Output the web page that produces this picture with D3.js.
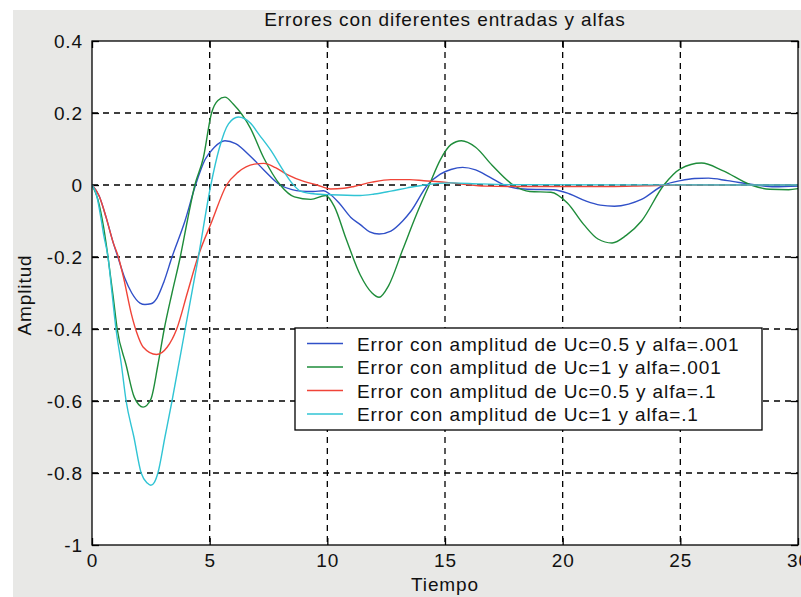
<!DOCTYPE html>
<html>
<head>
<meta charset="utf-8">
<script src="https://cdn.jsdelivr.net/npm/d3@7"></script>
<style>
  html, body { margin: 0; padding: 0; background: #ffffff; }
  svg { display: block; }
  text { font-family: "Liberation Sans", Arial, sans-serif; fill: #111; }
</style>
</head>
<body>
<svg id="chart" width="801" height="597"></svg>
<script>
// ---- data ----
const title = "Errores con diferentes entradas y alfas";
const xLabel = "Tiempo";
const yLabel = "Amplitud";
const xTicks = [0, 5, 10, 15, 20, 25, 30];
const yTicks = [-1, -0.8, -0.6, -0.4, -0.2, 0, 0.2, 0.4];
const yTickLabels = ["-1", "-0.8", "-0.6", "-0.4", "-0.2", "0", "0.2", "0.4"];
const seriesNames = [
  "Error con amplitud de Uc=0.5 y alfa=.001",
  "Error con amplitud de Uc=1 y alfa=.001",
  "Error con amplitud de Uc=0.5 y alfa=.1",
  "Error con amplitud de Uc=1 y alfa=.1"
];
const seriesColors = ["#3050c8", "#1e8c3a", "#f04438", "#30c4d4"];

// [tiempo, amplitud]
const errUc05a001 = [[0,0],[0.3,-0.03],[0.6,-0.09],[0.9,-0.16],[1.1,-0.2],[1.4,-0.26],[1.69,-0.3],[2.04,-0.328],[2.25,-0.332],[2.5,-0.33],[2.76,-0.314],[3.05,-0.27],[3.4,-0.2],[3.95,-0.1],[4.4,0],[4.8,0.07],[5.2,0.105],[5.65,0.123],[6.1,0.115],[6.73,0.08],[7.3,0.042],[8.0,0],[8.5,-0.013],[8.86,-0.017],[9.4,-0.018],[9.84,-0.016],[10.1,-0.025],[10.5,-0.05],[11.0,-0.09],[11.4,-0.11],[11.8,-0.13],[12.2,-0.136],[12.7,-0.128],[13.2,-0.1],[13.55,-0.073],[14.26,0],[14.8,0.03],[15.25,0.043],[15.75,0.049],[16.3,0.042],[16.9,0.022],[17.67,-0.004],[18.5,-0.012],[19.6,-0.013],[20.3,-0.025],[21.0,-0.045],[21.6,-0.056],[22.2,-0.059],[22.8,-0.053],[23.35,-0.04],[24.3,0],[25.0,0.012],[25.6,0.018],[26.2,0.019],[27.0,0.012],[28.2,0],[29.0,-0.005],[30,-0.003]];

const errUc1a001 = [[0,0],[0.25,-0.04],[0.5,-0.12],[0.68,-0.2],[0.9,-0.31],[1.07,-0.4],[1.45,-0.5],[1.8,-0.59],[2.17,-0.617],[2.5,-0.595],[2.8,-0.5],[3.07,-0.4],[3.4,-0.3],[3.75,-0.2],[4.05,-0.1],[4.37,0],[4.73,0.075],[5.08,0.2],[5.35,0.235],[5.65,0.244],[6.0,0.225],[6.73,0.158],[7.3,0.075],[8.0,0],[8.6,-0.033],[9.3,-0.04],[9.93,-0.029],[10.3,-0.06],[10.8,-0.15],[11.4,-0.25],[11.9,-0.3],[12.2,-0.312],[12.6,-0.28],[13.2,-0.18],[13.8,-0.08],[14.33,0],[14.8,0.07],[15.25,0.112],[15.7,0.123],[16.3,0.105],[17.0,0.055],[17.9,0],[18.6,-0.018],[19.5,-0.02],[20.2,-0.05],[20.9,-0.11],[21.5,-0.15],[22.1,-0.161],[22.7,-0.14],[23.35,-0.1],[24.3,0],[25.0,0.045],[25.9,0.061],[26.8,0.04],[28.0,0],[28.8,-0.012],[29.6,-0.013],[30,-0.01]];

const errUc05a1 = [[0,0],[0.3,-0.03],[0.6,-0.09],[0.9,-0.16],[1.12,-0.2],[1.35,-0.26],[1.68,-0.36],[1.9,-0.41],[2.17,-0.45],[2.74,-0.471],[3.2,-0.45],[3.6,-0.4],[4.05,-0.3],[4.5,-0.2],[5.1,-0.1],[5.72,0],[6.2,0.035],[6.9,0.058],[7.3,0.06],[7.8,0.048],[8.3,0.029],[9.0,0.01],[9.57,0],[10.14,-0.011],[10.7,-0.009],[11.13,-0.004],[11.9,0.008],[12.7,0.015],[13.5,0.015],[14.1,0.012],[14.97,0.008],[15.8,0.002],[16.7,-0.003],[18,-0.004],[20,-0.004],[22,-0.004],[23.5,-0.002],[25,0],[30,0]];

const errUc1a1 = [[0,0],[0.2,-0.03],[0.4,-0.1],[0.5,-0.14],[0.68,-0.2],[0.85,-0.3],[1.02,-0.4],[1.25,-0.5],[1.45,-0.6],[1.78,-0.7],[2.09,-0.8],[2.35,-0.828],[2.5,-0.834],[2.65,-0.826],[2.8,-0.8],[3.1,-0.7],[3.4,-0.6],[3.96,-0.4],[4.52,-0.2],[5.05,0],[5.4,0.1],[5.8,0.17],[6.22,0.189],[6.73,0.172],[7.1,0.14],[7.58,0.098],[8.15,0.038],[8.5,0.005],[8.86,-0.017],[9.5,-0.025],[10.14,-0.027],[11.4,-0.029],[12.0,-0.025],[12.7,-0.017],[13.4,-0.008],[14.1,0],[15.25,0.006],[16.5,0.003],[18,0.001],[30,0]];

const allSeries = [errUc05a001, errUc1a001, errUc05a1, errUc1a1];

// ---- layout ----
const W = 801, H = 597;
const plot = { left: 92, right: 798, top: 41, bottom: 545 };
const svg = d3.select("#chart");

svg.append("rect").attr("x", 0).attr("y", 0).attr("width", W).attr("height", H).attr("fill", "#ffffff");
svg.append("rect").attr("x", 13).attr("y", 10).attr("width", W - 13).attr("height", H - 10).attr("fill", "#e8e8e6");

const x = d3.scaleLinear().domain([0, 30]).range([plot.left, plot.right]);
const y = d3.scaleLinear().domain([-1, 0.4]).range([plot.bottom, plot.top]);

svg.append("rect")
  .attr("x", plot.left).attr("y", plot.top)
  .attr("width", plot.right - plot.left).attr("height", plot.bottom - plot.top)
  .attr("fill", "#ffffff");

// grid
const grid = svg.append("g").attr("stroke", "#000").attr("stroke-width", 1.3).attr("stroke-dasharray", "6,5");
grid.selectAll("line.vx").data(xTicks.filter(t => t > 0 && t < 30)).enter().append("line")
  .attr("x1", d => x(d)).attr("x2", d => x(d)).attr("y1", plot.top).attr("y2", plot.bottom);
grid.selectAll("line.hy").data(yTicks.filter(t => t > -1 && t < 0.4)).enter().append("line")
  .attr("y1", d => y(d)).attr("y2", d => y(d)).attr("x1", plot.left).attr("x2", plot.right);

// axes (D3 axes with inward ticks)
const fontSize = 19, letterSp = 0.9;
const xAxis = svg.append("g").attr("transform", `translate(0,${plot.bottom})`)
  .call(d3.axisBottom(x).tickValues(xTicks).tickSize(-7).tickPadding(9).tickFormat(d3.format("d")));
const xAxisTop = svg.append("g").attr("transform", `translate(0,${plot.top})`)
  .call(d3.axisTop(x).tickValues(xTicks).tickSize(-7).tickFormat(""));
const yAxis = svg.append("g").attr("transform", `translate(${plot.left},0)`)
  .call(d3.axisLeft(y).tickValues(yTicks).tickSize(-7).tickPadding(9).tickFormat((d, i) => yTickLabels[i]));
const yAxisR = svg.append("g").attr("transform", `translate(${plot.right},0)`)
  .call(d3.axisRight(y).tickValues(yTicks).tickSize(-7).tickFormat(""));
[xAxis, xAxisTop, yAxis, yAxisR].forEach(g => {
  g.select(".domain").remove();
  g.selectAll(".tick line").attr("stroke", "#000").attr("stroke-width", 1.3);
  g.selectAll(".tick text").attr("font-size", fontSize).attr("letter-spacing", letterSp)
    .attr("font-family", "Liberation Sans, Arial, sans-serif").attr("fill", "#111");
});

// series
const line = d3.line().x(d => x(d[0])).y(d => y(d[1])).curve(d3.curveMonotoneX);
const clip = svg.append("clipPath").attr("id", "clip").append("rect")
  .attr("x", plot.left).attr("y", plot.top).attr("width", plot.right - plot.left).attr("height", plot.bottom - plot.top);
svg.append("g").attr("clip-path", "url(#clip)")
  .selectAll("path").data(allSeries).enter().append("path")
  .attr("d", line).attr("fill", "none")
  .attr("stroke", (d, i) => seriesColors[i]).attr("stroke-width", 1.4).attr("stroke-linejoin", "round");

// frame
svg.append("rect")
  .attr("x", plot.left).attr("y", plot.top)
  .attr("width", plot.right - plot.left).attr("height", plot.bottom - plot.top)
  .attr("fill", "none").attr("stroke", "#000").attr("stroke-width", 1.3);

// legend
const leg = { x: 295, y: 328, w: 467, h: 102, rowY0: 343.5, rowDy: 23.5 };
svg.append("rect").attr("x", leg.x).attr("y", leg.y).attr("width", leg.w).attr("height", leg.h)
  .attr("fill", "#fff").attr("stroke", "#000").attr("stroke-width", 1.3);
const rows = svg.append("g").selectAll("g").data(seriesNames).enter().append("g")
  .attr("transform", (d, i) => `translate(0,${leg.rowY0 + i * leg.rowDy})`);
rows.append("line").attr("x1", 307).attr("x2", 343).attr("y1", 0).attr("y2", 0)
  .attr("stroke", (d, i) => seriesColors[i]).attr("stroke-width", 1.4);
rows.append("text").attr("x", 357).attr("y", 7).attr("font-size", fontSize).attr("letter-spacing", letterSp)
  .text(d => d);

// titles
svg.append("text").attr("x", 445).attr("y", 26).attr("text-anchor", "middle")
  .attr("font-size", fontSize).attr("letter-spacing", letterSp).text(title);
svg.append("text").attr("x", 445).attr("y", 591).attr("text-anchor", "middle")
  .attr("font-size", fontSize).attr("letter-spacing", letterSp).text(xLabel);
svg.append("text").attr("transform", "translate(31,295) rotate(-90)").attr("text-anchor", "middle")
  .attr("font-size", fontSize).attr("letter-spacing", letterSp).text(yLabel);
</script>
</body>
</html>
